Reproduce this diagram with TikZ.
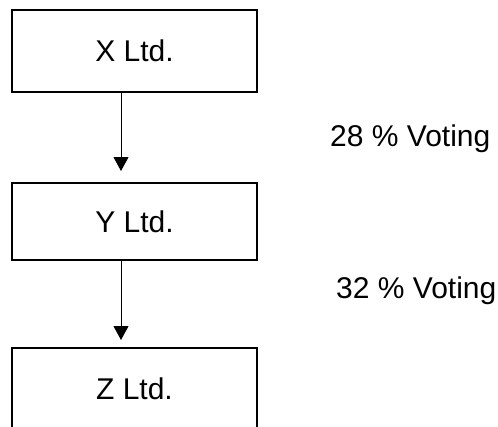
\documentclass[tikz,border=0pt]{standalone}
\usepackage{fontspec}
\setmainfont{Liberation Sans}
\usetikzlibrary{arrows.meta}

\begin{document}
\begin{tikzpicture}[x=1pt,y=-1pt,
  >={Triangle[width=15pt,length=14pt]},
  company/.style={draw,rectangle,line width=2pt,minimum width=245pt,minimum height=82pt,inner sep=0pt,font=\fontsize{30}{36}\selectfont},
  holding/.style={->,line width=1pt},
  share/.style={anchor=west,inner sep=0pt,font=\fontsize{30}{36}\selectfont}]
     \clip (0,0) rectangle (498,426);

     \node [company] (X) at (134.5,51) {X Ltd.};
     \node [company,minimum height=77pt] (Y) at (134.5,221.5) {Y Ltd.};
     \node [company] (Z) at (134.5,389) {Z Ltd.};

     \coordinate (A) at (121,0);

     \node [share] (V1) at (330,139) {28 \% Voting};
     \node [share] (V2) at (336,291) {32 \% Voting};

     \draw[holding,shorten >=11pt] (X.south -| A) -- (Y.north -| A);
     \draw[holding,shorten >=7pt] (Y.south -| A) -- (Z.north -| A);

\end{tikzpicture}
\end{document}
